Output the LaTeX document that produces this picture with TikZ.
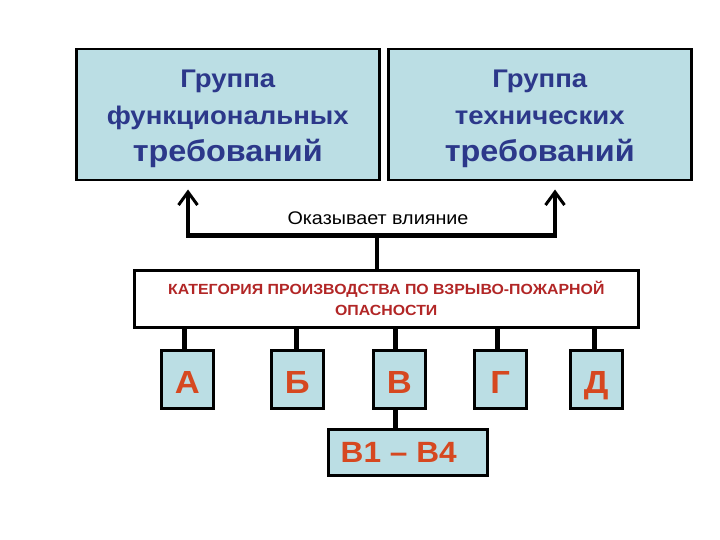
\documentclass[tikz,border=0pt]{standalone}
\usepackage{fontspec}
\setmainfont{Liberation Sans}[FakeStretch=1.08]
\usetikzlibrary{arrows.meta}
\definecolor{boxfill}{RGB}{187,222,228}
\definecolor{darkblue}{RGB}{44,56,138}
\definecolor{orangered}{RGB}{214,72,32}
\definecolor{darkred}{RGB}{178,38,38}
\begin{document}
\begin{tikzpicture}[x=1pt,y=-1pt,
  topbox/.style={draw=black, line width=2.5pt, fill=boxfill, inner sep=0pt,
    anchor=north west, minimum width=303pt, minimum height=131pt,
    align=center, text=darkblue, font=\bfseries\fontsize{25.5}{37}\selectfont},
  catbox/.style={draw=black, line width=2.5pt, fill=white, inner sep=0pt,
    anchor=north west, minimum width=504pt, minimum height=57pt,
    align=center, text=darkred, font=\bfseries\fontsize{14.7}{21}\selectfont},
  letterbox/.style={draw=black, line width=2.5pt, fill=boxfill, inner sep=0pt,
    anchor=north west, minimum width=52pt, minimum height=58pt,
    text height=34pt, text depth=6pt,
    text=orangered, font=\bfseries\fontsize{32}{36}\selectfont},
  subbox/.style={draw=black, line width=2.5pt, fill=boxfill, inner sep=0pt,
    anchor=north west, minimum width=159pt, minimum height=46pt,
    text=orangered, font=\bfseries\fontsize{29.3}{32}\selectfont},
  barline/.style={line width=5pt},
  shaft/.style={line width=3.5pt, -{Straight Barb[length=13pt,width=19pt,line width=3pt]}},
  stub/.style={line width=4pt},
  conn/.style={line width=4.5pt}]
\useasboundingbox (0,0) rectangle (720,540);

\node[topbox] (f) at (75,48) {\rule{0pt}{25pt}Группа\\функциональных\\{\fontsize{30}{37}\selectfont требований}};
\node[topbox] (t) at (387,48) {\rule{0pt}{25pt}Группа\\технических\\{\fontsize{30}{37}\selectfont требований}};

\node[catbox] (cat) at (133,269) {КАТЕГОРИЯ ПРОИЗВОДСТВА ПО ВЗРЫВО-ПОЖАРНОЙ\\ОПАСНОСТИ};

\node[letterbox] (a) at (160,349) {А};
\node[letterbox] (b) at (270,349) {Б};
\node[letterbox] (v) at (372,349) {В};
\node[letterbox] (g) at (473,349) {Г};
\node[letterbox] (d) at (569,349) {Д};

\node[subbox] (vv) at (327,428) {\hspace*{-18pt}В1 – В4};

\node[font=\fontsize{18.3}{20}\selectfont] (lbl) at (378,218) {Оказывает влияние};

\coordinate (jl) at (188,235);
\coordinate (jr) at (555,235);
\coordinate (jm) at (377,235);

\draw[barline] ([xshift=-1.75pt]jl) -- ([xshift=1.75pt]jr);
\draw[shaft] (jl) -- ([yshift=-8pt]jl |- f.south);
\draw[shaft] (jr) -- ([yshift=-8pt]jr |- t.south);
\draw[stub] (jm) -- (jm |- cat.north);

\draw[conn] ([xshift=-3pt]a.north) -- ([xshift=-3pt]a.north |- cat.south);
\draw[conn] ([xshift=-1pt]b.north) -- ([xshift=-1pt]b.north |- cat.south);
\draw[conn] ([xshift=-4pt]v.north) -- ([xshift=-4pt]v.north |- cat.south);
\draw[conn] ([xshift=-3pt]g.north) -- ([xshift=-3pt]g.north |- cat.south);
\draw[conn] ([xshift=-2pt]d.north) -- ([xshift=-2pt]d.north |- cat.south);
\draw[conn] ([xshift=-4pt]v.south) -- ([xshift=-4pt]v.south |- vv.north);
\end{tikzpicture}
\end{document}
